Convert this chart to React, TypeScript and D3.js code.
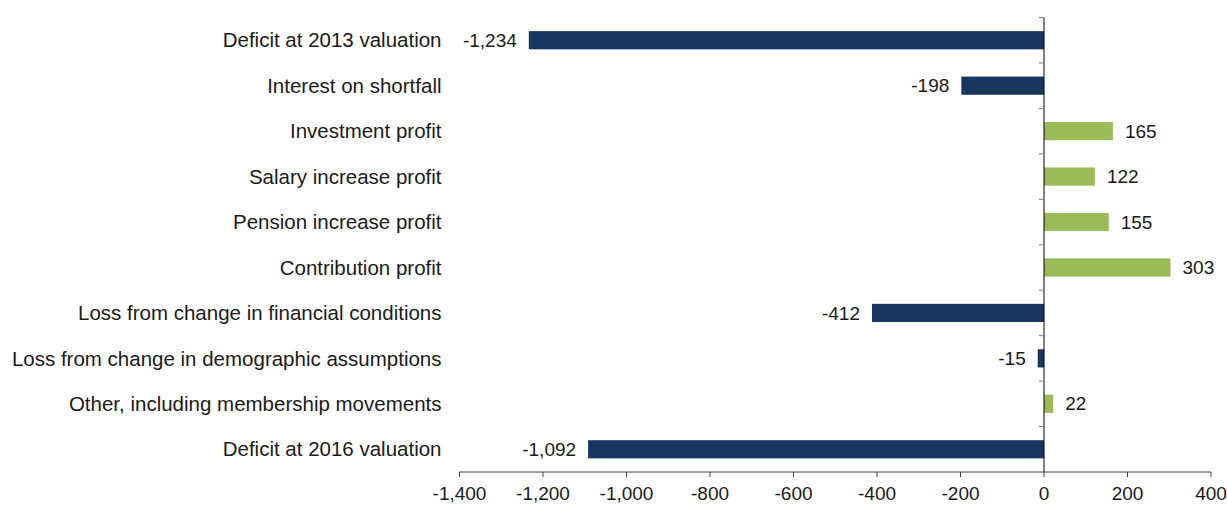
import React from 'react';
import * as d3 from 'd3';

const categories = [
  'Deficit at 2013 valuation',
  'Interest on shortfall',
  'Investment profit',
  'Salary increase profit',
  'Pension increase profit',
  'Contribution profit',
  'Loss from change in financial conditions',
  'Loss from change in demographic assumptions',
  'Other, including membership movements',
  'Deficit at 2016 valuation',
];

const values = [-1234, -198, 165, 122, 155, 303, -412, -15, 22, -1092];

const xTicks = [-1400, -1200, -1000, -800, -600, -400, -200, 0, 200, 400];

const WIDTH = 1227;
const HEIGHT = 506;
const margin = { top: 17.5, right: 16, bottom: 34, left: 459.5 };
const FONT = 'Arial, "Liberation Sans", sans-serif';
const NAVY = '#17375E';
const GREEN = '#9BBB59';

// hyphen-minus like the original, not the unicode minus d3 uses
const fmt = (v: number) => d3.format(',')(v).replace('\u2212', '-');

const App = () => {
  const innerH = HEIGHT - margin.top - margin.bottom;

  const x = d3.scaleLinear().domain([-1400, 400]).range([0, 751.5]);
  const y = d3.scaleBand().domain(categories).range([0, innerH]).paddingInner(0.6).paddingOuter(0.3);
  const yb = d3.scaleBand().domain(categories).range([0, innerH]);

  const zero = x(0);

  return (
    <div style={{ position: 'absolute', left: 0, top: 0, background: '#fff' }}>
      <svg width={WIDTH} height={HEIGHT} style={{ display: 'block' }} fontFamily={FONT}>
        <rect width={WIDTH} height={HEIGHT} fill="#fff" />
        <g transform={`translate(${margin.left},${margin.top})`}>
          {/* bars */}
          {categories.map((c, i) => {
            const v = values[i];
            const x0 = x(Math.min(0, v));
            const x1 = x(Math.max(0, v));
            return (
              <rect
                key={c}
                x={x0}
                y={y(c)}
                width={x1 - x0}
                height={y.bandwidth()}
                fill={v < 0 ? NAVY : GREEN}
              />
            );
          })}

          {/* value labels */}
          {categories.map((c, i) => {
            const v = values[i];
            const cy = (y(c) ?? 0) + y.bandwidth() / 2;
            const neg = v < 0;
            return (
              <text
                key={c}
                x={neg ? x(v) - 12 : x(v) + 12}
                y={cy}
                dy="0.35em"
                textAnchor={neg ? 'end' : 'start'}
                fontSize={19}
                fill="#1a1a1a"
              >
                {fmt(v)}
              </text>
            );
          })}

          {/* category labels */}
          {categories.map((c) => (
            <text
              key={c}
              x={-18}
              y={(yb(c) ?? 0) + yb.bandwidth() / 2}
              dy="0.35em"
              textAnchor="end"
              fontSize={20.5}
              fill="#1a1a1a"
            >
              {c}
            </text>
          ))}

          {/* vertical axis at zero */}
          <line x1={zero} x2={zero} y1={0} y2={innerH} stroke="#000" strokeWidth={1} />
          {categories.map((c) => (
            <line
              key={c}
              x1={zero - 5}
              x2={zero}
              y1={yb(c)}
              y2={yb(c)}
              stroke="#808080"
              strokeWidth={1}
            />
          ))}

          {/* bottom axis */}
          <g transform={`translate(0,${innerH})`}>
            <line x1={0} x2={x(400)} y1={0} y2={0} stroke="#404040" strokeWidth={1} />
            {xTicks.map((t) => (
              <g key={t} transform={`translate(${x(t)},0)`}>
                <line y1={0} y2={5} stroke="#404040" strokeWidth={1} />
                <text y={21} dy="0.35em" textAnchor="middle" fontSize={19} fill="#1a1a1a">
                  {fmt(t)}
                </text>
              </g>
            ))}
          </g>
        </g>
      </svg>
    </div>
  );
};

export default App;
